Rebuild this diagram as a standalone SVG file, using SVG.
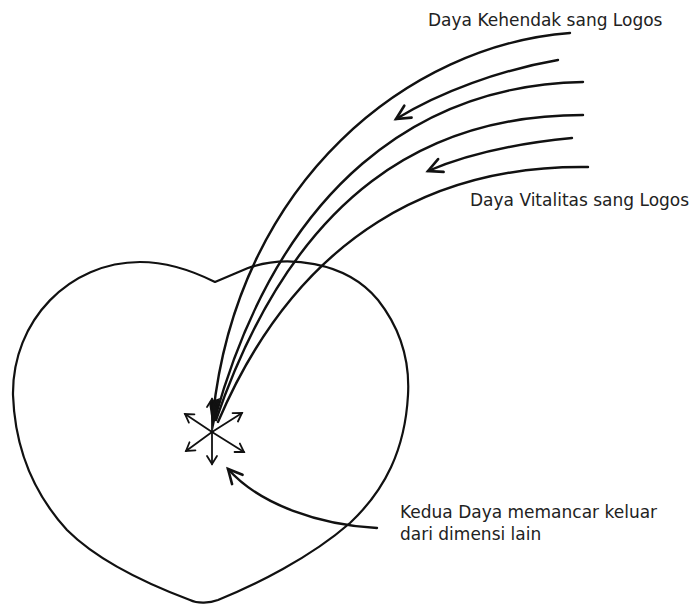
<svg xmlns="http://www.w3.org/2000/svg" width="695" height="605" viewBox="0 0 695 605">
<style>
.lbl{font-family:"DejaVu Sans",Verdana,sans-serif;font-size:17px;fill:#222}
.ray{fill:none;stroke:#111;stroke-width:2.4;stroke-linecap:round}
.star{fill:none;stroke:#111;stroke-width:1.8;stroke-linecap:round}
.heart{fill:none;stroke:#111;stroke-width:2.2;stroke-linejoin:round}
</style>
<defs>
<marker id="chev" markerUnits="userSpaceOnUse" orient="auto" markerWidth="30" markerHeight="30" refX="0" refY="0" viewBox="-20 -15 30 30" overflow="visible">
<path d="M-14,-7 L0,0 L-14,7" fill="none" stroke="#111" stroke-width="2.6" stroke-linecap="round" stroke-linejoin="miter"/>
</marker>
<marker id="small" markerUnits="userSpaceOnUse" orient="auto" markerWidth="20" markerHeight="20" refX="0" refY="0" viewBox="-10 -10 20 20" overflow="visible">
<path d="M-8,-5 L0,0 L-8,5" fill="none" stroke="#111" stroke-width="1.8" stroke-linecap="round"/>
</marker>
</defs>
<g id="heart">
<path class="heart" d="M215,282 L248,268 C285,255 345,260 378,300 C400,328 410,360 408,395 C405,450 385,490 350,523 C310,558 255,585 218,600 C210,603 198,604 190,600 C150,585 100,563 67,530 C35,495 15,450 13,395 C12,320 70,262 140,262 C170,262 195,272 215,282 Z"/>
</g>
<g id="connectors">
<path class="ray" d="M570,33 C410,45 238,180 213,415"/>
<path class="ray" d="M583,82 C420,85 280,185 215,418"/>
<path class="ray" d="M583,115 C430,115 295,190 216,420"/>
<path class="ray" d="M588,167 C440,165 300,230 218,422"/>
<path class="ray" d="M558,60 C500,70 440,92 396,119" marker-end="url(#chev)"/>
<path class="ray" d="M572,138 C520,143 470,153 428,171" marker-end="url(#chev)"/>
<path class="ray" d="M377,528 C320,525 260,505 228,469" marker-end="url(#chev)"/>
</g>
<g id="emanation">
<path d="M209,402 L220,398 L213,430 Z" fill="#111"/>
<line class="star" x1="212" y1="432" x2="212" y2="399" marker-end="url(#small)"/>
<line class="star" x1="212" y1="432" x2="185" y2="414" marker-end="url(#small)"/>
<line class="star" x1="212" y1="432" x2="242" y2="413" marker-end="url(#small)"/>
<line class="star" x1="212" y1="432" x2="186" y2="451" marker-end="url(#small)"/>
<line class="star" x1="212" y1="432" x2="244" y2="452" marker-end="url(#small)"/>
<line class="star" x1="212" y1="432" x2="212" y2="464" marker-end="url(#small)"/>
</g>
<g id="label-kehendak"><text class="lbl" x="428" y="26">Daya Kehendak sang Logos</text></g>
<g id="label-vitalitas"><text class="lbl" x="470" y="206">Daya Vitalitas sang Logos</text></g>
<g id="label-kedua"><text class="lbl" x="400" y="518">Kedua Daya memancar keluar</text><text class="lbl" x="400" y="540">dari dimensi lain</text></g>
</svg>
